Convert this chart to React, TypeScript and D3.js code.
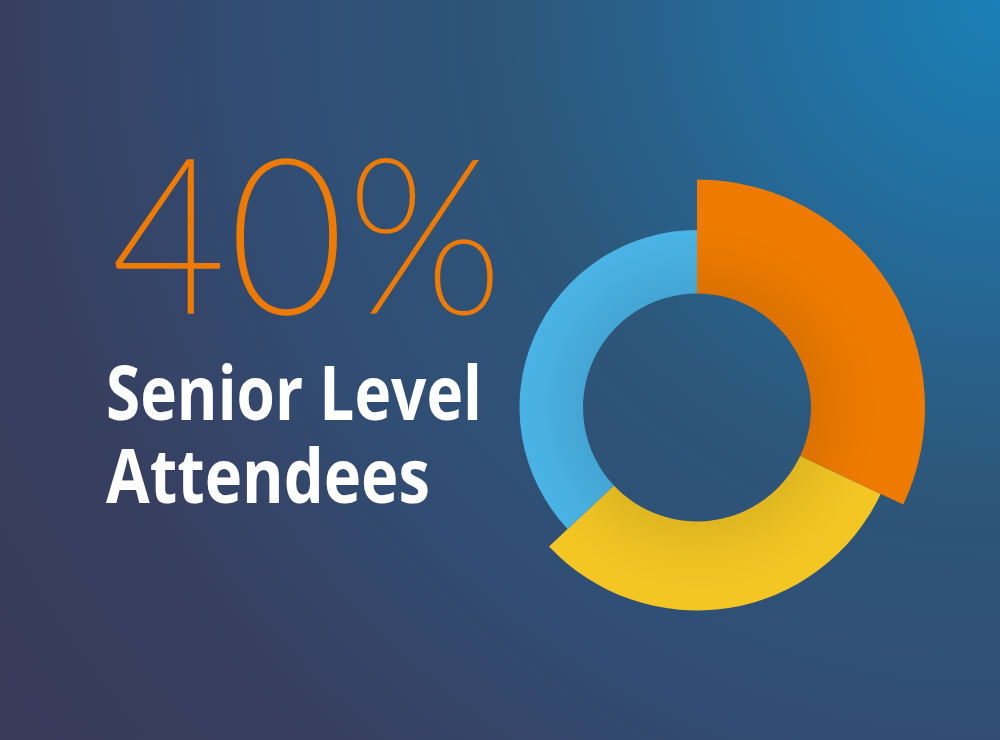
import React from "react";
import * as d3 from "d3";

// ---- data ----
const categories = ["Senior Level", "Mid Level", "Other"];
const shares = [32, 31, 37]; // percent of attendees
const headlineValue = "40%";
const titleLines = ["Senior Level", "Attendees"];

// ---- styling ----
const sliceColors = ["#EE7B00", "#F3C624", "#4AB4E6"];
const sliceOuterRadius = [228, 203, 177.5];
const innerRadius = 114;

const W = 1000;
const H = 740;
const cx = 697;
const cy = 407.5;

export default function App() {
  const pie = d3
    .pie<number>()
    .sort(null)
    .value((d) => d)
    .startAngle(0)
    .endAngle(2 * Math.PI);
  const arcs = pie(shares);

  const arcFor = (i: number) =>
    d3
      .arc<d3.PieArcDatum<number>>()
      .innerRadius(innerRadius)
      .outerRadius(sliceOuterRadius[i]);

  return (
    <svg
      width={W}
      height={H}
      viewBox={`0 0 ${W} ${H}`}
      style={{ display: "block", position: "absolute", left: 0, top: 0 }}
    >
      <defs>
        <radialGradient
          id="bg"
          gradientUnits="userSpaceOnUse"
          cx={1000}
          cy={0}
          r={1240}
        >
          <stop offset="0" stopColor="#1a80b7" />
          <stop offset="0.2" stopColor="#246b9a" />
          <stop offset="0.4" stopColor="#2d5679" />
          <stop offset="0.6" stopColor="#314d74" />
          <stop offset="0.8" stopColor="#373f60" />
          <stop offset="1" stopColor="#393b5a" />
        </radialGradient>
        <radialGradient
          id="shadeLocal"
          gradientUnits="userSpaceOnUse"
          cx={0}
          cy={0}
          r={228}
        >
          <stop offset="0.5" stopColor="#000" stopOpacity={0.08} />
          <stop offset="0.66" stopColor="#000" stopOpacity={0.03} />
          <stop offset="0.8" stopColor="#000" stopOpacity={0} />
        </radialGradient>
      </defs>
      <rect x={0} y={0} width={W} height={H} fill="url(#bg)" />

      <g transform={`translate(${cx},${cy})`}>
        {arcs.map((a, i) => (
          <g key={categories[i]}>
            <path d={arcFor(i)(a) || ""} fill={sliceColors[i]} />
            <path d={arcFor(i)(a) || ""} fill="url(#shadeLocal)" />
          </g>
        ))}
      </g>

      <text
        x={110}
        y={315}
        fill="#EE7B00"
        stroke="url(#bg)"
        strokeWidth={2.6}
        fontFamily="Lato, 'Open Sans', sans-serif"
        fontWeight={300}
        fontSize={221}
        textLength={394}
        lengthAdjust="spacingAndGlyphs"
      >
        {headlineValue}
      </text>
      {titleLines.map((t, i) => (
        <text
          key={t}
          x={106}
          y={420 + i * 83}
          fill="#ffffff"
          fontFamily="'Open Sans', sans-serif"
          fontWeight={700}
          fontSize={76}
          textLength={i === 0 ? 376 : 324}
          lengthAdjust="spacingAndGlyphs"
        >
          {t}
        </text>
      ))}
    </svg>
  );
}
